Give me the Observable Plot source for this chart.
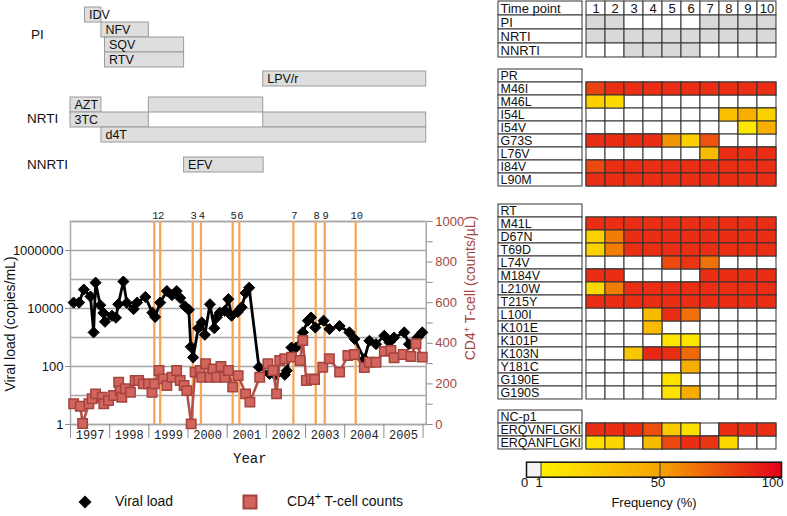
<!DOCTYPE html>
<html><head><meta charset="utf-8">
<script src="https://cdn.jsdelivr.net/npm/d3@7"></script>
<script src="https://cdn.jsdelivr.net/npm/@observablehq/plot@0.6"></script>
<style>
body{margin:0;background:#fff;}
#root{position:relative;width:787px;height:516px;overflow:hidden;font-family:"Liberation Sans",Arial,sans-serif;color:#111;}
#root svg{max-width:none;}
</style></head><body><div id="root"></div>
<script>
// ---------------- DATA ----------------
const years = [1997,1998,1999,2000,2001,2002,2003,2004,2005];
const timePoints = [1,2,3,4,5,6,7,8,9,10];
const timePointYear = [1999.14,1999.29,2000.12,2000.33,2001.14,2001.31,2002.69,2003.26,2003.49,2004.28];

const vlYear = [1997.08,1997.22,1997.34,1997.51,1997.59,1997.64,1997.76,1997.84,1997.88,1998.06,1998.16,1998.22,1998.35,1998.44,1998.61,1998.70,1998.91,1999.09,1999.16,1999.29,1999.46,1999.59,1999.71,1999.80,1999.92,2000.02,2000.07,2000.13,2000.26,2000.35,2000.43,2000.56,2000.67,2000.73,2000.81,2000.94,2001.03,2001.11,2001.27,2001.37,2001.47,2001.56,2001.81,2002.08,2002.23,2002.47,2002.52,2002.64,2002.76,2002.93,2003.06,2003.14,2003.25,2003.46,2003.61,2003.87,2004.12,2004.25,2004.50,2004.63,2004.80,2005.01,2005.14,2005.26,2005.52,2005.64,2005.86,2005.98];
const vlValue = [16000,16000,45000,26000,1500,78000,13000,7000,3500,5600,4800,14000,85000,15500,9500,16000,25000,7200,5100,16000,40000,29000,40000,23000,12000,9000,480,205,2100,3300,1240,14000,2100,4900,7200,8300,21000,5600,7600,11000,34000,52000,95,56,50,52,72,450,450,1500,3800,4900,2200,3800,1950,2500,1500,890,180,770,590,1150,680,1000,1500,590,1000,1500];

const cd4Year = [1997.08,1997.25,1997.31,1997.47,1997.55,1997.64,1997.81,1997.85,1997.97,1998.10,1998.23,1998.27,1998.31,1998.40,1998.53,1998.65,1998.74,1998.86,1998.99,1999.08,1999.14,1999.26,1999.37,1999.46,1999.59,1999.71,1999.80,1999.90,1999.97,2000.08,2000.18,2000.31,2000.35,2000.45,2000.56,2000.64,2000.73,2000.84,2000.94,2001.03,2001.14,2001.28,2001.47,2001.58,2001.83,2002.04,2002.17,2002.26,2002.34,2002.47,2002.64,2002.86,2002.93,2003.02,2003.15,2003.23,2003.44,2003.61,2003.87,2004.08,2004.25,2004.50,2004.63,2004.80,2005.01,2005.18,2005.26,2005.49,2005.69,2005.82,2005.98];
const cd4Value = [102,90,5,102,127,151,134,102,118,143,208,167,134,176,159,217,217,200,200,159,200,266,225,192,233,266,217,192,167,3,258,266,233,299,233,274,233,286,233,266,184,241,151,110,233,299,266,151,315,324,332,315,414,217,225,222,282,324,258,340,345,281,307,307,360,365,329,345,335,398,332];

const drugNames = ["IDV","NFV","SQV","RTV","LPV/r","AZT","3TC","d4T","EFV"];
const drugClass = ["PI","PI","PI","PI","PI","NRTI","NRTI","NRTI","NNRTI"];
const drugSegDrug  = ["IDV","NFV","SQV","RTV","LPV/r","AZT","AZT","3TC","3TC","d4T","EFV"];
const drugSegStart = [1997.37,1997.79,1997.88,1997.88,2001.92,1997.0,1999.0,1997.0,2001.92,1997.79,1999.90];
const drugSegEnd   = [1997.79,1999.0,1999.90,1999.90,2006.08,1997.79,2001.92,1999.0,2006.08,2006.08,2001.93];

const treatClasses = ["PI","NRTI","NNRTI"];

const prMutations = ["M46I","M46L","I54L","I54V","G73S","L76V","I84V","L90M"];
const prFreq = [
 [80,86,86,86,86,86,86,86,86,86],
 [22,15,0,0,0,0,0,0,0,0],
 [0,0,0,0,0,0,0,32,42,20],
 [0,0,0,0,0,0,0,0,6,42],
 [86,86,86,86,55,22,75,0,0,0],
 [0,0,0,0,0,0,35,86,86,86],
 [78,86,86,86,86,86,86,86,86,86],
 [86,86,86,86,86,86,86,86,86,86]
];
const rtMutations = ["M41L","D67N","T69D","L74V","M184V","L210W","T215Y","L100I","K101E","K101P","K103N","Y181C","G190E","G190S"];
const rtFreq = [
 [86,86,86,86,86,86,86,86,86,86],
 [20,62,86,86,86,86,86,86,86,86],
 [20,62,86,86,86,86,86,86,86,86],
 [0,0,0,0,78,84,66,0,0,0],
 [86,86,0,0,0,0,86,86,86,86],
 [15,62,86,86,86,86,86,86,86,86],
 [86,86,86,86,86,86,86,86,86,86],
 [0,0,0,35,86,66,0,0,0,0],
 [0,0,0,35,0,0,0,0,0,0],
 [0,0,0,0,8,8,0,0,0,0],
 [0,0,28,88,86,68,0,0,0,0],
 [0,0,0,0,0,45,0,0,0,0],
 [0,0,0,0,10,0,0,0,0,0],
 [0,0,0,0,10,45,0,0,0,0]
];
const ncMutations = ["ERQVNFLGKI","ERQANFLGKI"];
const ncFreq = [
 [86,86,86,76,25,12,0,86,86,86],
 [12,18,0,35,78,86,84,15,0,0]
];
const colorbarTicks = [0,1,50,100];

// ---------------- LAYOUT ----------------
const root = document.getElementById("root");
const FONT = "Liberation Sans, Arial, sans-serif";
const MONO = "Liberation Mono, DejaVu Sans Mono, monospace";
function place(el, left, top){ el.style.position="absolute"; el.style.left=left+"px"; el.style.top=top+"px"; root.appendChild(el); return el; }
function txt(s, left, cy, size, extra){ const d=document.createElement("div"); d.textContent=s; d.style.cssText=`position:absolute;left:${left}px;top:${cy-size*0.6}px;font-size:${size}px;line-height:${size*1.2}px;white-space:nowrap;`+(extra||""); root.appendChild(d); return d; }
function rot(html, cx, cy, size, extra){ const d=document.createElement("div"); d.innerHTML=html; d.style.cssText=`position:absolute;left:${cx}px;top:${cy}px;transform:translate(-50%,-50%) rotate(-90deg);font-size:${size}px;white-space:nowrap;`+(extra||""); root.appendChild(d); return d; }

const xDomain = [1997, 2006.08];
const frameLeft=70, frameRight=425.7, frameTop=221, frameBottom=424;
const mainTop=195, mainW=480, mainH=275;
const mainMargins = {marginLeft: frameLeft, marginRight: mainW-frameRight, marginTop: frameTop-mainTop, marginBottom: mainTop+mainH-frameBottom};
const baseStyle = {background:"transparent", fontFamily: FONT, fontSize:"13px", overflow:"visible", color:"#111"};

// ---------- drug timeline ----------
const segs = drugSegDrug.map((d,i)=>({drug:d, x1:drugSegStart[i], x2:drugSegEnd[i], first: drugSegDrug.indexOf(d)===i}));
function timeline(names, top){
  const rowH = 15.5;
  const s = segs.filter(d=>names.includes(d.drug));
  const p = Plot.plot({
    width: mainW, height: names.length*rowH+2,
    marginLeft: frameLeft, marginRight: mainW-frameRight, marginTop:1, marginBottom:1,
    x:{domain:xDomain, axis:null}, y:{domain:names, padding:0, axis:null},
    style: baseStyle,
    marks:[
      Plot.barX(s, {x1:"x1", x2:"x2", y:"drug", fill:"#dedede", stroke:"#9a9a9a", strokeWidth:1, inset:0}),
      Plot.text(s.filter(d=>d.first), {x:"x1", y:"drug", text:"drug", textAnchor:"start", dx:4, fontSize:12.5, fill:"#111"})
    ]
  });
  place(p, 0, top-1);
}
timeline(drugNames.slice(0,4), 6);
timeline(drugNames.slice(4,5), 71);
timeline(drugNames.slice(5,8), 95.7);
timeline(drugNames.slice(8,9), 157.3);
txt(treatClasses[0], 31, 35.5, 13.5);
txt(treatClasses[1], 27, 119, 13.5);
txt(treatClasses[2], 27, 165.5, 13.5);

// ---------- main chart: viral load ----------
const vl = vlYear.map((x,i)=>({x, v:vlValue[i]}));
const cd4 = cd4Year.map((x,i)=>({x, c:cd4Value[i]}));
const decades = d3.range(0,8).map(k=>Math.pow(10,k));
const plotA = Plot.plot({
  width: mainW, height: mainH, ...mainMargins,
  style: baseStyle,
  x:{domain:xDomain, label:null},
  y:{type:"log", domain:[1,1e7], label:null},
  marks:[
    Plot.ruleY(decades, {stroke:"#a8a8a8", strokeWidth:1.5}),
    Plot.frame({stroke:"#a8a8a8", strokeWidth:1.5}),
    Plot.ruleX(timePointYear, {stroke:"#f5a55c", strokeWidth:2.3}),
    Plot.text(timePoints, {x:(d,i)=>timePointYear[i], text:d=>String(d), frameAnchor:"top", dy:-10, dx:1, fontFamily:MONO, fontSize:10.5, fill:"#222"}),
    Plot.axisX(years.concat([2006]), {tickSize:14, tickFormat:()=>"", stroke:"#8c8c8c", label:null}),
    Plot.axisX(years.map(y=>y+0.5), {tickSize:0, tickPadding:6, tickFormat:d=>String(Math.floor(d)), fontFamily:MONO, fontSize:12, label:null, fill:"#222"}),
    Plot.axisY([1,100,1e4,1e6], {tickSize:5, tickPadding:2, tickFormat:d=>String(d), stroke:"#8c8c8c", fill:"#111", fontSize:13, label:null}),
    Plot.line(vl, {x:"x", y:"v", stroke:"#000", strokeWidth:2.8}),
    Plot.dot(vl, {x:"x", y:"v", symbol:"diamond2", r:5, fill:"#000", stroke:"#000", strokeWidth:1})
  ]
});
place(plotA, 0, mainTop);

// ---------- main chart: CD4 ----------
const plotB = Plot.plot({
  width: mainW, height: mainH, ...mainMargins,
  style: baseStyle,
  x:{domain:xDomain, axis:null},
  y:{domain:[0,1000], label:null},
  marks:[
    Plot.axisY(d3.range(0,1001,100), {anchor:"right", tickSize:6, tickFormat:()=>"", stroke:"#8c8c8c", label:null}),
    Plot.axisY(d3.range(0,1001,200), {anchor:"right", tickSize:0, tickPadding:9, tickFormat:d=>String(d), fill:"#a4473f", fontSize:13, label:null}),
    Plot.line(cd4, {x:"x", y:"c", stroke:"#b4514b", strokeWidth:2.6}),
    Plot.dot(cd4, {x:"x", y:"c", symbol:"square", r:5.3, fill:"#d2665e", stroke:"#a5433d", strokeWidth:1.5})
  ]
});
place(plotB, 0, mainTop);

rot("Viral load (copies/mL)", 10, 324, 14);
rot("CD4<sup style='font-size:9px'>+</sup> T-cell (counts/µL)", 470, 288, 14, "color:#a4473f;");
txt("Year", 233, 459, 14, `font-family:${MONO};`);

// ---------- legend ----------
const leg = document.createElement("div");
leg.innerHTML = `<svg width="16" height="16" style="position:absolute;left:77px;top:494px"><path d="M8 1.5 L14.5 8 L8 14.5 L1.5 8 Z" fill="#000"/></svg>
<div style="position:absolute;left:115px;top:493px;font-size:14px;white-space:nowrap">Viral load</div>
<svg width="16" height="16" style="position:absolute;left:242px;top:494px"><rect x="1.5" y="1.5" width="13" height="13" fill="#d2665e" stroke="#a5433d" stroke-width="2"/></svg>
<div style="position:absolute;left:287px;top:493px;font-size:14px;white-space:nowrap">CD4<sup style="font-size:10px;line-height:0">+</sup> T-cell counts</div>`;
root.appendChild(leg);

// ---------- tables ----------
const colorOpts = {type:"linear", domain:[1,100], interpolate: d3.piecewise(d3.interpolateRgb, ["#fff000","#f5a300","#e4001c"])};
const nameLeft = 498.3, nameW = 84, cellLeft = 582.3, cellW = 197.7;

function nameColumn(names, top, rowH, fs){
  const p = Plot.plot({
    width: nameW+2, height: names.length*rowH+2, margin:1,
    y:{domain:names, padding:0, axis:null}, style: baseStyle,
    marks:[
      Plot.cell(names, {y:d=>d, fill:"#fff", stroke:"#333", strokeWidth:1, inset:0}),
      Plot.text(names, {y:d=>d, text:d=>d, frameAnchor:"left", dx:2, fontSize:fs, fill:"#111"})
    ]
  });
  place(p, nameLeft-1, top-1);
}
function heat(header, rows, freq, top){
  const rowH = 13.33;
  const names = [header, ...rows];
  nameColumn(names, top, rowH, 12.5);
  const cells = rows.flatMap((r,ri)=>timePoints.map((t,ci)=>({row:r, tp:t, v:freq[ri][ci]})));
  const p = Plot.plot({
    width: cellW+2, height: names.length*rowH+2, margin:1,
    x:{domain:timePoints, padding:0, axis:null}, y:{domain:names, padding:0, axis:null},
    color: colorOpts, style: baseStyle,
    marks:[
      Plot.cell(cells, {x:"tp", y:"row", fill:"#fff", stroke:"#333", strokeWidth:1, inset:0}),
      Plot.cell(cells.filter(d=>d.v>0), {x:"tp", y:"row", fill:"v", stroke:"#333", strokeWidth:1, inset:0})
    ]
  });
  place(p, cellLeft-1, top-1);
}

// time point table
(function(){
  const rowH = 14;
  const names = ["Time point", ...treatClasses];
  nameColumn(names, 1, rowH, 13);
  const cells = treatClasses.flatMap(c=>timePoints.map((t,i)=>{
    const yr = timePointYear[i];
    const on = segs.some(s=>drugClass[drugNames.indexOf(s.drug)]===c && yr>=s.x1 && yr<=s.x2);
    return {row:c, tp:t, on};
  }));
  const p = Plot.plot({
    width: cellW+2, height: names.length*rowH+2, margin:1,
    x:{domain:timePoints, padding:0, axis:null}, y:{domain:names, padding:0, axis:null},
    style: baseStyle,
    marks:[
      Plot.cell(timePoints, {x:d=>d, y:()=>names[0], fill:"#fff", stroke:"#333", inset:0}),
      Plot.text(timePoints, {x:d=>d, y:()=>names[0], text:d=>String(d), fontSize:13, fill:"#111"}),
      Plot.cell(cells, {x:"tp", y:"row", fill:d=>d.on?"#d9d9d9":"#fff", stroke:"#333", inset:0})
    ]
  });
  place(p, cellLeft-1, 0);
})();

heat("PR", prMutations, prFreq, 68.3);
heat("RT", rtMutations, rtFreq, 202.3);
heat("NC-p1", ncMutations, ncFreq, 409.7);

// ---------- colorbar ----------
// the 0–1 "absent" segment is drawn wider than its share, as in the original key
const cbWhiteShare = 5.69;
const cbPos = v => v <= 1 ? v * cbWhiteShare : cbWhiteShare + (v - 1) * (100 - cbWhiteShare) / 99;
const cbSteps = d3.range(1,100,0.5);
const cb = Plot.plot({
  width: 270, height: 60, marginLeft: 11, marginRight: 4, marginTop: 6.7, marginBottom: 38.3,
  x:{domain:[0,100], transform: cbPos, axis:null},
  color: colorOpts, style: baseStyle,
  marks:[
    Plot.rect([colorbarTicks[0]], {x1:d=>d, x2:()=>colorbarTicks[1], fill:"#f3f3f3"}),
    Plot.rect(cbSteps, {x1:d=>d, x2:d=>Math.min(d+1.2, 100), fill:d=>d+0.25, shapeRendering:"crispEdges"}),
    Plot.ruleX(colorbarTicks.slice(1,3), {stroke:"#333", strokeWidth:1}),
    Plot.frame({stroke:"#111", strokeWidth:1.5}),
    Plot.text(colorbarTicks.slice(0,3), {x:d=>d, text:d=>String(d), frameAnchor:"bottom", dy:10, dx:-2, fontSize:13, fill:"#111"}),
    Plot.text(colorbarTicks.slice(3), {x:d=>d, text:d=>String(d), frameAnchor:"bottom", dy:10, dx:2, textAnchor:"end", fontSize:13, fill:"#111"}),
    Plot.text(["Frequency (%)"], {frameAnchor:"bottom", dy:30, fontSize:13, fill:"#111"})
  ]
});
place(cb, 515, 455);
</script></body></html>
